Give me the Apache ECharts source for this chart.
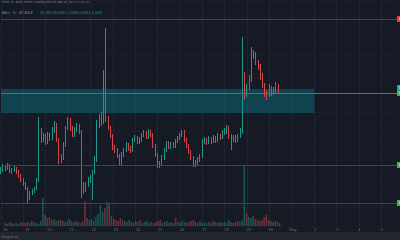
<!DOCTYPE html>
<html><head><meta charset="utf-8">
<script src="https://cdn.jsdelivr.net/npm/echarts@6/dist/echarts.min.js"></script>
<style>html,body{margin:0;padding:0;background:#161a25;}#c{width:400px;height:240px;}</style>
</head><body><div id="c"></div>
<script>
// time-axis tick labels (one every 10 candles)
const dayLabels = ['18','19','20','21','22','23','24','25','26','27','28','29','30','May','2','3','4','5'];
// candles: [open, close, low, high]
const candles = [
[68,70,66,73],[70,73,68,76],[73,72,69,75],[72,75,70,77],[75,69,67,76],[69,70,66,72],[70,72,68,74],[72,68,66,73],
[68,64,62,70],[64,60,58,66],[60,57,54,62],[57,52,50,58],[52,42,37,53],[42,47,40,49],[47,49,45,51],[49,51,47,53],
[51,60,50,62],[60,108,58,123],[108,100,97,112],[100,104,98,107],[104,98,95,106],[98,105,96,108],[105,102,99,107],
[102,110,100,113],[110,116,107,119],[116,100,98,117],[100,80,76,102],[80,82,77,86],[82,95,80,98],[95,112,93,114],
[112,120,110,123],[120,112,109,122],[112,105,103,114],[105,110,103,113],[110,114,108,117],[114,108,106,116],
[108,55,42,110],[55,50,46,58],[50,55,48,58],[55,60,53,63],[60,62,57,65],[62,68,40,70],[68,80,66,84],[80,115,78,120],
[115,122,112,126],[122,118,114,128],[118,130,116,170],[130,122,118,212],[122,112,110,124],[112,104,102,114],
[104,92,90,106],[92,90,87,95],[90,84,82,92],[84,77,75,86],[77,85,75,88],[85,90,83,92],[90,95,88,98],[95,92,89,97],
[92,90,87,94],[90,100,88,102],[100,102,98,105],[102,98,96,104],[98,100,96,103],[100,105,98,107],[105,107,103,110],
[107,103,101,109],[103,108,101,111],[108,105,103,110],[105,94,92,107],[94,85,83,96],[85,74,72,87],[74,76,72,79],
[76,82,74,85],[82,90,80,92],[90,97,88,99],[97,93,91,99],[93,96,91,98],[96,94,92,98],[94,99,92,101],[99,102,97,104],
[102,105,100,107],[105,108,103,110],[108,100,98,110],[100,94,92,102],[94,88,86,96],[88,82,80,90],[82,75,73,84],
[75,77,73,80],[77,80,75,83],[80,84,78,86],[84,99,82,101],[99,100,96,103],[100,98,95,102],[98,101,96,104],
[101,99,96,103],[99,102,97,105],[102,100,97,104],[100,104,98,107],[104,103,100,106],[103,107,101,110],
[107,109,105,112],[109,112,106,115],[112,104,101,114],[104,100,90,106],[100,103,98,105],[103,100,97,105],
[100,104,98,106],[104,108,102,112],[108,165,106,203],[165,145,140,168],[145,152,143,156],[152,160,150,165],
[160,188,158,193],[188,185,181,190],[185,178,175,188],[178,174,170,180],[174,165,160,176],[165,155,152,167],
[155,148,143,157],[148,145,140,150],[145,152,143,156],[152,147,144,154],[147,150,145,153],[150,154,147,158],
[154,148,146,156]
];
const volumes = [
3,2,4,3,2,3,2,4,3,3,4,3,5,4,3,2,5,
28,11,8,9,6,7,5,6,
6,5,4,5,7,5,4,5,4,3,5,
25,8,6,7,5,9,12,21,14,18,24,22,
10,7,6,5,8,6,
5,4,6,4,3,5,4,6,3,4,5,3,4,3,
4,5,6,3,4,5,3,4,3,8,4,3,5,4,3,4,5,6,4,3,5,3,4,3,4,3,5,4,3,4,3,4,3,6,4,3,4,5,4,6,
60,13,9,8,10,
7,6,5,6,9,11,6,5,4,5,4,3
];
// horizontal levels
const resistanceLevel = 221;
const zoneTop = 151, zoneMid = 147, zoneBottom = 127;
const support1 = 75, support2 = 37;
const lastPrice = 152;
const zoneEndIndex = '140';

const N = 178;
const cats = [];
for (let i = 0; i < N; i++) cats.push(String(i));
const UP = '#22978c', DOWN = '#d2474c';
const volData = volumes.map((v, i) => ({
  value: v,
  itemStyle: { color: candles[i][1] >= candles[i][0] ? 'rgba(38,166,154,0.42)' : 'rgba(239,83,80,0.42)' }
}));
function levelSeries(val, lineColor, labelColor) {
  return { type: 'line', xAxisIndex: 0, yAxisIndex: 0, data: [], silent: true, z: 3,
    markLine: { silent: true, symbol: 'none', animation: false,
      lineStyle: { color: lineColor, width: 1, type: 'solid', opacity: 1 },
      label: { show: true, position: 'end', distance: 0, formatter: '0.000', fontSize: 4, color: '#fff',
        backgroundColor: labelColor, padding: [1, 2] },
      data: [{ yAxis: val, lineStyle: { color: lineColor, type: 'solid' } }] } };
}
const chart = echarts.init(document.getElementById('c'), null, { renderer: 'canvas' });
chart.setOption({
  backgroundColor: '#161a25',
  animation: false,
  grid: [
    { left: 1, right: 3, top: 0, bottom: 14 },
    { left: 1, right: 3, top: 146, bottom: 14 }
  ],
  xAxis: [
    { type: 'category', gridIndex: 0, data: cats, boundaryGap: false,
      axisLine: { show: false }, axisTick: { show: false }, axisLabel: { show: false },
      splitLine: { show: true, interval: 9, lineStyle: { color: '#1f2431', width: 1 } } },
    { type: 'category', gridIndex: 1, data: cats, boundaryGap: false,
      axisLine: { show: false }, axisTick: { show: false }, splitLine: { show: false },
      axisLabel: { show: true, interval: 9, margin: 2, fontSize: 4, color: '#6b6f7a',
        formatter: (v, idx) => dayLabels[Math.round(idx / 10)] } }
  ],
  yAxis: [
    { type: 'value', gridIndex: 0, min: 14, max: 240, show: false, splitLine: { show: false } },
    { type: 'value', gridIndex: 1, min: 0, max: 80, show: false, splitLine: { show: false } },
    { type: 'value', gridIndex: 0, min: 0, max: 226, interval: 19, axisLine: { show: false },
      axisTick: { show: false }, axisLabel: { show: false },
      splitLine: { show: true, lineStyle: { color: '#1b1f2b', width: 1 } } }
  ],
  series: [
    { type: 'bar', xAxisIndex: 1, yAxisIndex: 1, data: volData, barWidth: 1.5, silent: true },
    { type: 'candlestick', xAxisIndex: 0, yAxisIndex: 0, data: candles, barWidth: 1.1,
      itemStyle: { color: UP, color0: DOWN, borderColor: UP, borderColor0: DOWN, borderWidth: 1 },
      markArea: { silent: true, itemStyle: { color: 'rgba(8,118,130,0.45)' },
        data: [[{ coord: ['0', zoneTop] }, { coord: [zoneEndIndex, zoneBottom] }]] } },
    levelSeries(resistanceLevel, '#7a2a3a', '#f23645'),
    levelSeries(support1, '#2c5238', '#4caf50'),
    levelSeries(support2, '#2c5238', '#4caf50'),
    levelSeries(zoneMid, '#3a8070', '#4caf50'),
    levelSeries(lastPrice, 'rgba(0,0,0,0)', '#22a39a')
  ],
  graphic: [
    { type: 'rect', left: 0, top: 232, shape: { width: 400, height: 8 }, style: { fill: '#22262f' } },
    { type: 'text', left: 1, top: 234.5, style: { text: 'Snapshot', fontSize: 4, fill: '#6b6f7a' } },
    { type: 'text', left: 1, top: 1, style: { text: 'Tether, 1h, published on TradingView.com, Apr 30, 2023 17:35 UTC', fontSize: 3, fill: '#7d818c' } },
    { type: 'text', left: 1, top: 7, style: { text: '{g|Tether · 1h · BINANCE}  {o|O0.5352 H0.5356 L0.5340 C0.5344 -0.0008}',
        rich: { g: { fontSize: 3.2, fill: '#7d818c' }, o: { fontSize: 3.2, fill: '#1f9e8c' } } } },
    { type: 'text', left: 1, top: 11.5, style: { text: 'Vol', fontSize: 3.5, fill: '#1f9e8c' } }
  ]
});
</script></body></html>
